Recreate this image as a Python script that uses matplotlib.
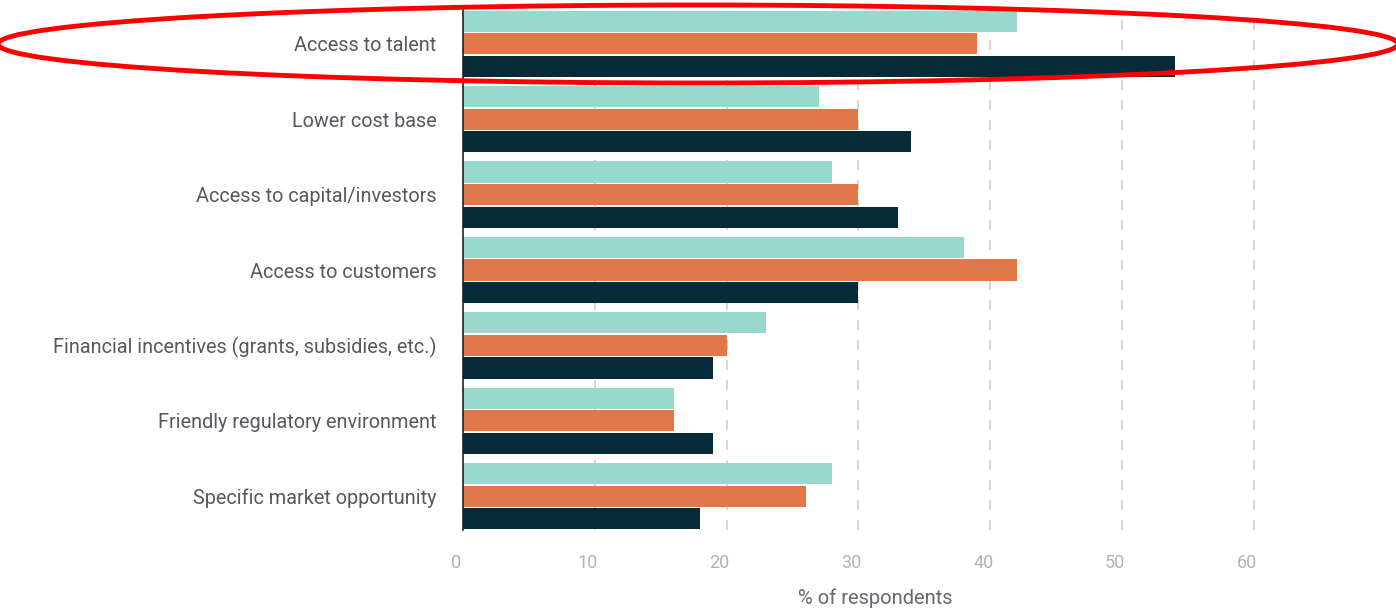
import numpy as np
import matplotlib.pyplot as plt
import matplotlib.transforms as mtrans
from matplotlib.patches import Ellipse

# データ
categories = ["Access to talent", "Lower cost base", "Access to capital/investors",
              "Access to customers", "Financial incentives (grants, subsidies, etc.)",
              "Friendly regulatory environment", "Specific market opportunity"]
mint_vals = [42, 27, 28, 38, 23, 16, 28]
orange_vals = [39, 30, 30, 42, 20, 16, 26]
navy_vals = [54, 34, 33, 30, 19, 19, 18]
xticks = [0, 10, 20, 30, 40, 50, 60]

colors = ["#97d9cc", "#e0784a", "#062a38"]

plt.rcParams['font.family'] = ['Roboto', 'DejaVu Sans']

fig = plt.figure(figsize=(13.96, 6.13), dpi=100)
ax = fig.add_axes([463/1396, 1-530/613, (1300-463)/1396, 520/613])

y = np.arange(len(categories))
step = 0.3
h = 0.28
for i, vals in enumerate([mint_vals, orange_vals, navy_vals]):
    ax.barh(y + (i-1)*step, vals, height=h, color=colors[i], zorder=3)

ax.set_ylim(len(categories)-0.55, -0.45)
ax.set_xlim(0, 63.5)
ax.set_yticks(y)
ax.set_yticklabels(categories, fontsize=14.3, color="#555a60")
ax.set_xticks(xticks)
ax.set_xticklabels([str(t) for t in xticks], fontsize=13, color="#b0b4b8")
ax.tick_params(axis='y', length=0, pad=19)
ax.tick_params(axis='x', length=0, pad=17)
ax.set_xlabel("% of respondents", fontsize=14.5, color="#666a70")
ax.xaxis.set_label_coords((875-463)/(1300-463), -0.113)

# 目盛りラベルを少し左へ
shift = mtrans.ScaledTranslation(-7/100, 0, fig.dpi_scale_trans)
for lab in ax.get_xticklabels():
    lab.set_transform(lab.get_transform() + shift)

for t in xticks[1:]:
    ax.axvline(t, color="#cfcfcf", lw=1.2, ls=(0, (6, 6)), zorder=1)

for s in ["top", "right", "bottom"]:
    ax.spines[s].set_visible(False)
ax.spines["left"].set_color("#222222")
ax.spines["left"].set_linewidth(1.2)
ax.spines["left"].set_zorder(4)

# 赤い楕円
ell = Ellipse((698/1396, 1-44/613), 1400/1396, 78/613, transform=fig.transFigure,
              fill=False, edgecolor="red", lw=3.5, zorder=10)
fig.patches.append(ell)

fig.savefig("out.png", dpi=100)
